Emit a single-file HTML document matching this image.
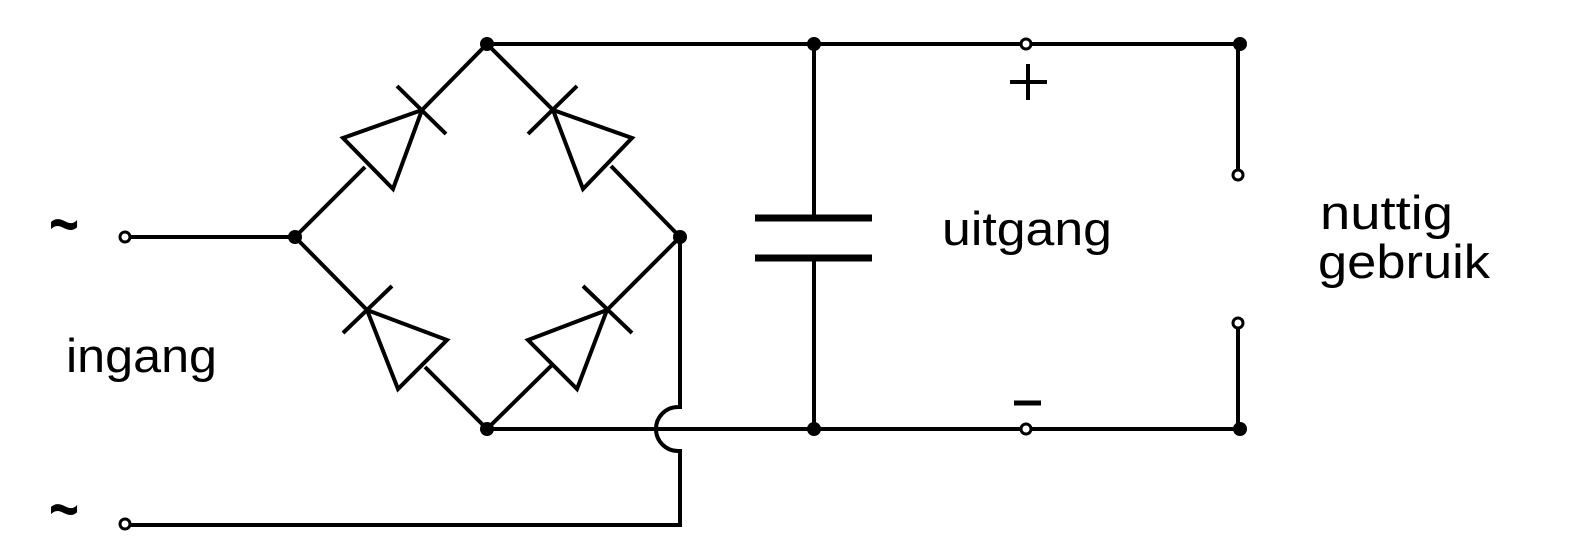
<!DOCTYPE html>
<html><head><meta charset="utf-8"><style>
html,body{margin:0;padding:0;background:#fff;}
svg{display:block;}
text{font-family:"Liberation Sans",sans-serif;fill:#000;}
</style></head><body>
<svg width="1573" height="558" viewBox="0 0 1573 558" xmlns="http://www.w3.org/2000/svg">
<g stroke="#000" stroke-width="4" fill="none" stroke-linecap="butt">
<line x1="487" y1="44" x2="1240" y2="44"/>
<line x1="487" y1="429" x2="1240" y2="429"/>
<path d="M680 237 V407 H678 A22 22 0 0 0 678 451 H680 V525 H125"/>
<line x1="125" y1="237" x2="295" y2="237"/>
<line x1="814" y1="44" x2="814" y2="218"/>
<line x1="814" y1="258" x2="814" y2="429"/>
<line x1="755" y1="218" x2="872" y2="218" stroke-width="7"/>
<line x1="755" y1="258" x2="872" y2="258" stroke-width="7"/>
<line x1="1238" y1="44" x2="1238" y2="170"/>
<line x1="1238" y1="328" x2="1238" y2="429"/>
<line x1="295" y1="237" x2="365" y2="167"/>
<line x1="422" y1="110" x2="487" y2="44"/>
<polygon points="422,110 343,138 393,189"/>
<line x1="397" y1="86" x2="446" y2="134"/>
<line x1="487" y1="44" x2="553" y2="110"/>
<line x1="611" y1="166" x2="680" y2="237"/>
<polygon points="553,110 632,138 583,189"/>
<line x1="528" y1="134" x2="577" y2="86"/>
<line x1="295" y1="237" x2="367" y2="310"/>
<line x1="425" y1="367" x2="487" y2="429"/>
<polygon points="367,310 447,340 398,389"/>
<line x1="343" y1="333" x2="392" y2="286"/>
<line x1="487" y1="429" x2="552" y2="365"/>
<line x1="607" y1="310" x2="680" y2="237"/>
<polygon points="607,310 528,340 577,389"/>
<line x1="583" y1="286" x2="632" y2="333"/>
<circle cx="125" cy="237" r="5" fill="#fff" stroke-width="3"/>
<circle cx="125" cy="524" r="5" fill="#fff" stroke-width="3"/>
<circle cx="1026" cy="44" r="5" fill="#fff" stroke-width="3"/>
<circle cx="1026" cy="429" r="5" fill="#fff" stroke-width="3"/>
<circle cx="1238" cy="175" r="5" fill="#fff" stroke-width="3"/>
<circle cx="1238" cy="323" r="5" fill="#fff" stroke-width="3"/>
<line x1="1010" y1="82" x2="1047" y2="82"/>
<line x1="1028" y1="64" x2="1028" y2="100"/>
<line x1="1014" y1="403" x2="1041" y2="403" stroke-width="5"/>
</g>
<g fill="#000">
<circle cx="487" cy="44" r="7"/>
<circle cx="295" cy="237" r="7"/>
<circle cx="680" cy="237" r="7"/>
<circle cx="487" cy="429" r="7"/>
<circle cx="814" cy="44" r="7"/>
<circle cx="814" cy="429" r="7"/>
<circle cx="1240" cy="44" r="7"/>
<circle cx="1240" cy="429" r="7"/>
</g>
<text x="49" y="247" font-size="68" font-family="Liberation Serif" font-weight="bold" textLength="30" lengthAdjust="spacingAndGlyphs">~</text>
<text x="49" y="532" font-size="68" font-family="Liberation Serif" font-weight="bold" textLength="30" lengthAdjust="spacingAndGlyphs">~</text>
<text x="66" y="372" font-size="47" textLength="151" lengthAdjust="spacingAndGlyphs">ingang</text>
<text x="942" y="245" font-size="47" textLength="170" lengthAdjust="spacingAndGlyphs">uitgang</text>
<text x="1320" y="229" font-size="47" textLength="133" lengthAdjust="spacingAndGlyphs">nuttig</text>
<text x="1318" y="278" font-size="47" textLength="172" lengthAdjust="spacingAndGlyphs">gebruik</text>
</svg>
</body></html>
